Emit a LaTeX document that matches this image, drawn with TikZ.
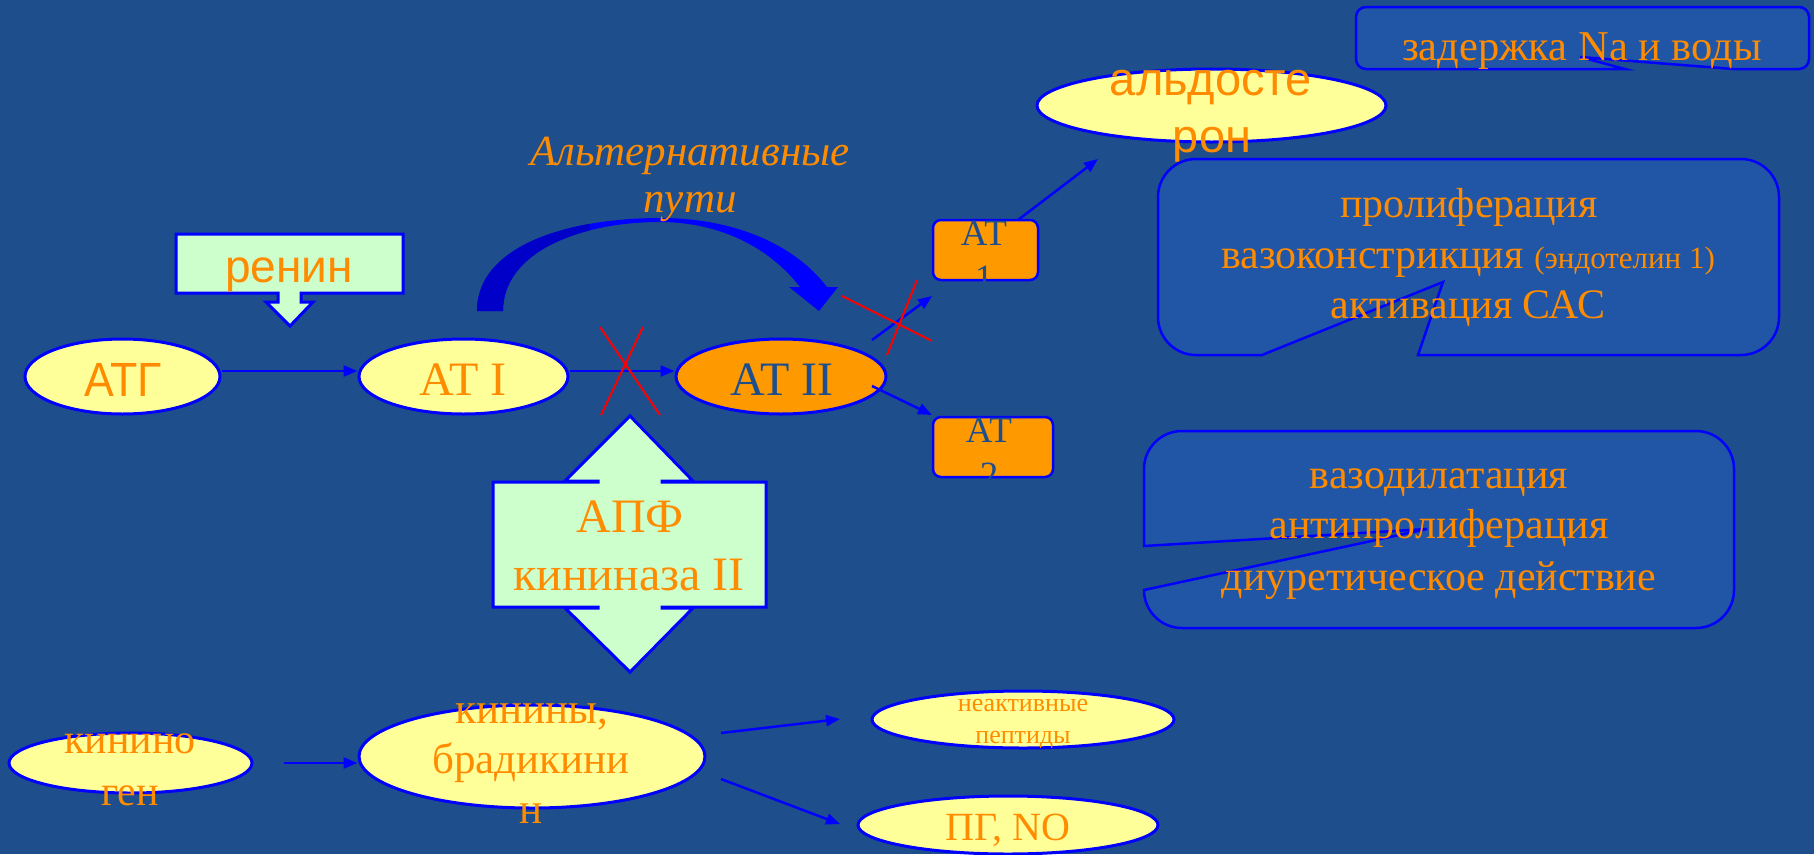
\documentclass[tikz,border=0pt]{standalone}
\usepackage{fontspec}
\setmainfont{Liberation Serif}
\newfontfamily\arialf{Liberation Sans}
\newfontfamily\arialc[FakeStretch=0.93]{Liberation Sans}
\usetikzlibrary{arrows.meta,shapes.geometric}
\definecolor{bgblue}{RGB}{30,79,140}
\definecolor{boxblue}{RGB}{33,85,165}
\definecolor{lyellow}{RGB}{255,255,153}
\definecolor{lgreen}{RGB}{204,255,204}
\definecolor{orangeT}{RGB}{255,140,0}
\definecolor{orangeF}{RGB}{255,153,0}
\definecolor{edgeblue}{RGB}{0,0,255}
\definecolor{darkarrow}{RGB}{0,0,200}
\newcommand{\myfs}[1]{\fontsize{#1}{#1}\selectfont}
\begin{document}
\begin{tikzpicture}[x=1pt,y=-1pt,
 ell/.style={ellipse, draw=edgeblue, line width=3pt, fill=lyellow, inner sep=0pt},
 txt/.style={inner sep=0pt, anchor=base, text=orangeT},
 dtxt/.style={inner sep=0pt, anchor=base, text=bgblue},
 conn/.style={draw=edgeblue, line width=2.5pt, -{Triangle[length=14pt,width=11pt]}},
 cross/.style={draw=red, line width=2pt},
 shapeline/.style={draw=edgeblue, line width=3pt},
 callout/.style={draw=edgeblue, line width=2.5pt, fill=boxblue},
 atbox/.style={draw=edgeblue, line width=2.5pt, fill=orangeF, rounded corners=8pt, inner sep=0pt},
]
\fill[bgblue] (0,0) rectangle (1814,854);
\useasboundingbox (0,0) rectangle (1814,854);

% --- top row ---
\node[ell, minimum width=195pt, minimum height=75pt] (atg) at (122.5,376.5) {};
\node[txt, font={\arialc\myfs{48}}] (atgT) at (123,396) {АТГ};
\node[ell, minimum width=209pt, minimum height=75pt] (at1) at (463.5,376.5) {};
\node[txt, font={\myfs{48}}] (at1T) at (463,395) {АТ I};
\node[ell, fill=orangeF, minimum width=210pt, minimum height=75pt] (at2) at (781,376.5) {};
\node[dtxt, font={\myfs{48}}] (at2T) at (782,395) {АТ II};

\draw[conn] ([yshift=5.5pt]atg.east) -- ([yshift=5.5pt]at1.west);
\draw[conn] ([yshift=5.5pt]at1.east) -- ([yshift=5.5pt]at2.west);
\draw[cross] (600,327) -- (660,415);
\draw[cross] (643,327) -- (601,415);

% --- renin ---
\path[shapeline, fill=lgreen] (176,234) -- (403,234) -- (403,293) -- (301,293) -- (301,302) -- (313,302) -- (290,326) -- (266,302) -- (278,302) -- (278,293) -- (176,293) -- cycle;
\node[txt, font={\arialf\myfs{46}}] (reninT) at (289,282) {ренин};

% --- alternative pathway arrow ---
\fill[edgeblue] (477,311) .. controls (477,245) and (570,218) .. (660,218) .. controls (735,218) and (795,245) .. (827,287) -- (838,287) -- (819,311) -- (789,287) -- (800,287) .. controls (770,248) and (720,222) .. (660,222) .. controls (580,222) and (503,252) .. (503,311) -- cycle;
\begin{scope}
\clip (400,200) rectangle (590,330);
\fill[darkarrow] (477,311) .. controls (477,245) and (570,218) .. (660,218) -- (660,222) .. controls (580,222) and (503,252) .. (503,311) -- cycle;
\end{scope}
\node[txt, font={\itshape\myfs{43}}] (altT1) at (690,165) {Альтернативные};
\node[txt, font={\itshape\myfs{43}}] (altT2) at (690,212) {пути};

% --- AT1 / AT2 receptors ---
\node[atbox, minimum width=105pt, minimum height=60pt] (at1b) at (985.5,250) {};
\node[dtxt, font={\myfs{37}}] (at1bT1) at (984,245) {АТ};
\node[dtxt, font={\myfs{37}}] (at1bT2) at (984,290) {1};
\node[atbox, minimum width=120pt, minimum height=60pt] (at2b) at (993,447) {};
\node[dtxt, font={\myfs{37}}] (at2bT1) at (989,442) {АТ};
\node[dtxt, font={\myfs{37}}] (at2bT2) at (989,487) {2};

\coordinate (s1) at (872,340);
\coordinate (e1) at (932,296);
\coordinate (s2) at (872,386);
\coordinate (e2) at (932,415);
\draw[conn] (s1) -- (e1);
\draw[conn] (s2) -- (e2);
\draw[cross] (842,296) -- (932,341);
\draw[cross] (917,280) -- (887,355);

% --- aldosterone ---
\node[ell, minimum width=349pt, minimum height=73pt] (ald) at (1211.5,105.5) {};
\node[txt, font={\arialf\myfs{47}}] (aldT1) at (1211,95) {альдосте};
\node[txt, font={\arialf\myfs{47}}] (aldT2) at (1212,152) {рон};
\coordinate (s3) at (1018,220);
\coordinate (e3) at (1098,159);
\draw[conn] (s3) -- (e3);

% --- callouts ---
\path[callout] (1356,17) arc[start angle=180,end angle=270,radius=10] -- (1799,7) arc[start angle=270,end angle=360,radius=10] -- (1809,59) arc[start angle=0,end angle=90,radius=10] -- (1733,69) -- (1580,57) -- (1625,69) -- (1366,69) arc[start angle=90,end angle=180,radius=10] -- cycle;
\node[txt, font={\myfs{42.5}}] (zadT) at (1582,60) {задержка Na и воды};

\path[callout] (1158,197) arc[start angle=180,end angle=270,radius=38] -- (1741,159) arc[start angle=270,end angle=360,radius=38] -- (1779,317) arc[start angle=0,end angle=90,radius=38] -- (1418,355) -- (1443,282) -- (1262,355) -- (1196,355) arc[start angle=90,end angle=180,radius=38] -- cycle;
\node[txt, font={\myfs{42}}] (c1T1) at (1469,217) {пролиферация};
\node[txt, font={\myfs{42}}] (c1T2) at (1468,268) {вазоконстрикция {\myfs{31}(эндотелин 1)}};
\node[txt, font={\myfs{42}}] (c1T3) at (1468,318) {активация САС};

\path[callout] (1144,469) arc[start angle=180,end angle=270,radius=38] -- (1696,431) arc[start angle=270,end angle=360,radius=38] -- (1734,590) arc[start angle=0,end angle=90,radius=38] -- (1182,628) arc[start angle=90,end angle=180,radius=38] -- (1427,529) -- (1144,546) -- cycle;
\node[txt, font={\myfs{42}}] (c2T1) at (1439,488) {вазодилатация};
\node[txt, font={\myfs{42}}] (c2T2) at (1439,538) {антипролиферация};
\node[txt, font={\myfs{42}}] (c2T3) at (1439,590) {диуретическое действие};

% --- ACE / kininase II ---
\path[shapeline, fill=lgreen] (493,482) -- (598,482) -- (598,481) -- (565,481) -- (630,416) -- (693,481) -- (662,481) -- (662,482) -- (766,482) -- (766,607) -- (662,607) -- (662,608) -- (693,608) -- (630,672) -- (565,608) -- (598,608) -- (598,607) -- (493,607) -- cycle;
\node[txt, font={\myfs{48}}] (apfT1) at (630,532) {АПФ};
\node[txt, font={\myfs{48}}] (apfT2) at (629,590) {кининаза II};

% --- kinins ---
\node[ell, minimum width=243pt, minimum height=60pt] (kgen) at (130.5,763) {};
\node[txt, font={\myfs{42}}] (kgenT1) at (130,753) {кинино};
\node[txt, font={\myfs{42}}] (kgenT2) at (130,805) {ген};
\node[ell, minimum width=346pt, minimum height=103pt] (kin) at (532,756.5) {};
\node[txt, font={\myfs{43}}] (kinT1) at (532,723) {кинины,};
\node[txt, font={\myfs{43}}] (kinT2) at (531,773) {брадикини};
\node[txt, font={\myfs{43}}] (kinT3) at (531,823) {н};
\draw[conn, shorten <=30pt] (kgen.east) -- (kgen.east -| kin.west);

\node[ell, minimum width=302pt, minimum height=57pt] (inact) at (1023,719.5) {};
\node[txt, font={\myfs{26}}] (inactT1) at (1023,711) {неактивные};
\node[txt, font={\myfs{26}}] (inactT2) at (1023,743) {пептиды};
\node[ell, minimum width=300pt, minimum height=58pt] (pg) at (1008,825) {};
\node[txt, font={\myfs{40}}] (pgT) at (1008,840) {ПГ, NO};

\coordinate (s4) at (721,733);
\coordinate (e4) at (840,719);
\coordinate (s5) at (721,779);
\coordinate (e5) at (840,824);
\draw[conn] (s4) -- (e4);
\draw[conn] (s5) -- (e5);
\end{tikzpicture}
\end{document}
